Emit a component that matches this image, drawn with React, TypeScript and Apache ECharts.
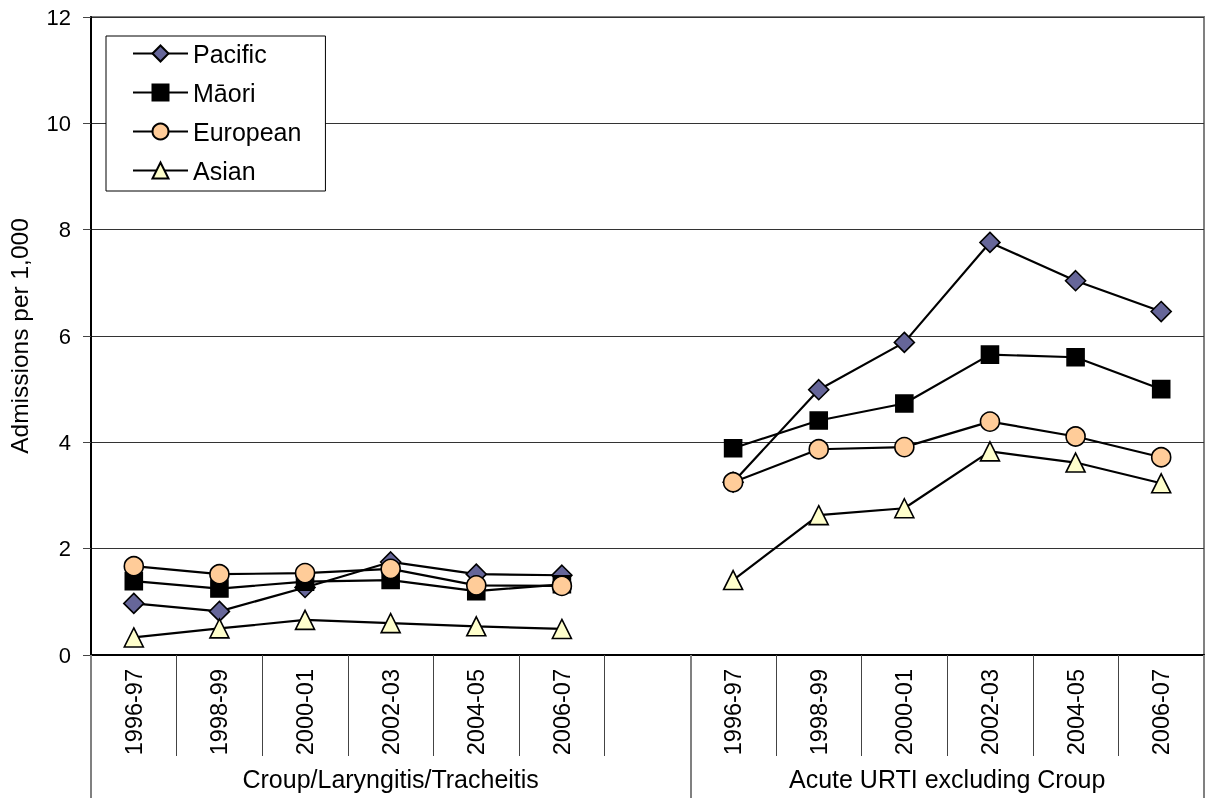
import React, { useEffect, useRef } from "react";
import * as echarts from "echarts";

const periods = ["1996-97", "1998-99", "2000-01", "2002-03", "2004-05", "2006-07"];
const groupNames = ["Croup/Laryngitis/Tracheitis", "Acute URTI excluding Croup"];
// first group has a trailing blank category (gap)
const groupSizes = [7, 6];
const categories = [...periods, "", ...periods];

const pacific = [0.97, 0.82, 1.27, 1.75, 1.52, 1.5, null, 3.25, 4.99, 5.88, 7.76, 7.04, 6.46];
const maori = [1.39, 1.25, 1.38, 1.41, 1.2, 1.33, null, 3.89, 4.41, 4.73, 5.65, 5.6, 5.0];
const european = [1.67, 1.52, 1.54, 1.62, 1.31, 1.3, null, 3.25, 3.87, 3.91, 4.39, 4.11, 3.72];
const asian = [0.33, 0.5, 0.66, 0.6, 0.54, 0.49, null, 1.41, 2.63, 2.76, 3.83, 3.62, 3.23];

const seriesNames = ["Pacific", "Māori", "European", "Asian"];

const yTicks = { min: 0, max: 12, interval: 2 };

export default function App() {
  const ref = useRef<HTMLDivElement>(null);
  useEffect(() => {
    document.body.style.margin = "0";
    const chart = echarts.init(ref.current!, null, { renderer: "svg" });
    const font = "'Liberation Sans', Arial, sans-serif";
    const bounds: number[] = [0];
    groupSizes.forEach((s) => bounds.push(bounds[bounds.length - 1] + s));
    const centers = groupSizes.map((s, i) => bounds[i] + s / 2);
    const total = bounds[bounds.length - 1];

    const mk = (name: string, data: (number | null)[], symbol: string, size: number, fill: string) => ({
      name,
      type: "line",
      data,
      symbol,
      symbolSize: size,
      connectNulls: false,
      lineStyle: { color: "#000", width: 2.2 },
      itemStyle: { color: fill, borderColor: "#000", borderWidth: 1.6 },
      emphasis: { disabled: true },
    });

    chart.setOption({
      animation: false,
      textStyle: { fontFamily: font, color: "#000" },
      grid: {
        left: 91,
        right: 7,
        top: 17,
        bottom: 143,
        show: true,
        borderColor: "#808080",
        borderWidth: 2,
        backgroundColor: "transparent",
        outerBoundsMode: "none",
      },
      legend: {
        orient: "vertical",
        left: 106,
        top: 36,
        padding: [5, 24, 8, 26],
        itemWidth: 55,
        itemHeight: 20,
        itemGap: 14,
        backgroundColor: "#fff",
        borderColor: "#000",
        borderWidth: 1,
        borderRadius: 0,
        textStyle: { fontSize: 25, color: "#000", fontFamily: font },
        data: seriesNames,
      },
      xAxis: [
        {
          type: "category",
          data: categories,
          boundaryGap: true,
          axisLine: { show: true, lineStyle: { color: "#000", width: 2 } },
          axisTick: { show: true, interval: 0, length: 101, lineStyle: { color: "#444", width: 1 } },
          axisLabel: { interval: 0, rotate: 90, fontSize: 23.5, margin: 14, color: "#000", fontFamily: font },
          splitLine: { show: false },
        },
        {
          type: "value",
          min: 0,
          max: total,
          position: "bottom",
          axisLine: { show: false },
          splitLine: { show: false },
          axisTick: { show: true, customValues: bounds, length: 143, lineStyle: { color: "#808080", width: 2 } },
          axisLabel: {
            customValues: centers,
            formatter: (v: number) => groupNames[centers.indexOf(v)] ?? "",
            fontSize: 25,
            margin: 111,
            color: "#000",
            fontFamily: font,
          },
        },
      ],
      yAxis: {
        type: "value",
        min: yTicks.min,
        max: yTicks.max,
        interval: yTicks.interval,
        name: "Admissions per 1,000",
        nameLocation: "middle",
        nameGap: 59,
        nameTextStyle: { fontSize: 24.5, color: "#000", fontFamily: font },
        axisLine: { show: true, lineStyle: { color: "#000", width: 2 } },
        axisTick: { show: true, length: 8, lineStyle: { color: "#444", width: 1 } },
        axisLabel: { fontSize: 22, margin: 20, color: "#000", fontFamily: font },
        splitLine: { show: true, lineStyle: { color: "#333", width: 1 } },
      },
      series: [
        mk(seriesNames[0], pacific, "diamond", 20, "#666699"),
        mk(seriesNames[1], maori, "rect", 17, "#000000"),
        mk(seriesNames[2], european, "circle", 19, "#FFCC99"),
        mk(seriesNames[3], asian, "triangle", 19, "#FFFFCC"),
      ],
    });
    return () => chart.dispose();
  }, []);
  return <div ref={ref} style={{ position: "fixed", left: 0, top: 0, width: 1211, height: 798 }} />;
}
